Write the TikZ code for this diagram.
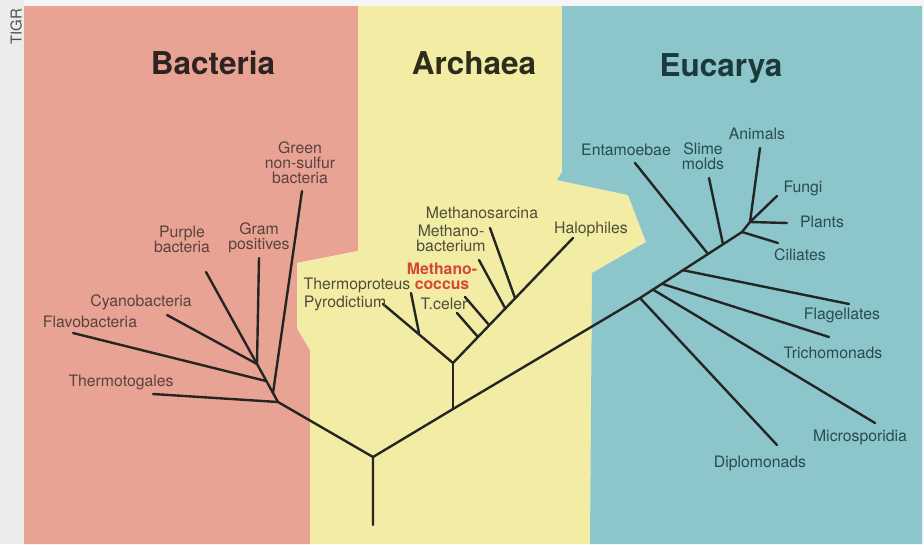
\documentclass[tikz,border=0pt]{standalone}
\usepackage{fontspec}
\setmainfont{TeX Gyre Heros}
\definecolor{bpink}{RGB}{233,163,148}
\definecolor{ayellow}{RGB}{243,236,164}
\definecolor{eblue}{RGB}{140,198,203}
\definecolor{stripgray}{RGB}{236,236,234}
\definecolor{treeline}{RGB}{36,38,36}
\definecolor{mred}{RGB}{214,70,56}
\definecolor{labB}{RGB}{90,66,62}
\definecolor{labA}{RGB}{78,78,58}
\definecolor{labE}{RGB}{40,76,80}
\definecolor{titB}{RGB}{45,35,33}
\definecolor{titA}{RGB}{45,45,30}
\definecolor{titE}{RGB}{28,58,60}
\tikzset{
  tree/.style={draw=treeline, line width=2.4pt, line cap=round, line join=round},
  lbl/.style={font=\fontsize{15.8}{15}\selectfont, align=center, inner sep=0pt, text height=11pt, text depth=0pt},
  lblB/.style={lbl, text=labB},
  lblA/.style={lbl, text=labA},
  lblE/.style={lbl, text=labE},
  domtitle/.style={font=\fontsize{31.5}{36}\selectfont\bfseries, inner sep=0pt, text height=23pt, text depth=0pt}
}
\begin{document}
\begin{tikzpicture}[x=1pt,y=-1pt]
\useasboundingbox (0,0) rectangle (924,544);
% backgrounds
\fill[white!96!black] (0,0) rectangle (924,544);
\fill[stripgray] (0,0) rectangle (24,544);
\fill[bpink] (24,6) -- (358,6) -- (358,251) -- (297,263) -- (297,328) -- (310,350) -- (310,544) -- (24,544) -- cycle;
\fill[ayellow] (358,6) -- (562,6) -- (562,172) -- (557,180) -- (628,195) -- (646,242) -- (592,273) -- (590,544) -- (310,544) -- (310,350) -- (297,328) -- (297,263) -- (358,251) -- cycle;
\fill[eblue] (562,6) -- (922,6) -- (922,544) -- (590,544) -- (592,273) -- (646,242) -- (628,195) -- (557,180) -- (562,172) -- cycle;

\node[rotate=90, font=\fontsize{15}{15}\selectfont, text={rgb,255:red,80;green,80;blue,80}, inner sep=0pt, text height=11pt, text depth=0pt] (tigr) at (16,27) {TIGR};

% titles
\node[domtitle, text=titB] (tbact) at (213,63) {Bacteria};
\node[domtitle, text=titA] (tarch) at (474,63) {Archaea};
\node[domtitle, text=titE] (teuc) at (721,65) {Eucarya};

% tree coordinates
\coordinate (root) at (373,525);
\coordinate (rfork) at (373,457);
% bacteria
\coordinate (bnode) at (278,402);
\coordinate (thermotog) at (153,394);
\coordinate (bgreen) at (273,393);
\coordinate (green) at (302,191);
\coordinate (bflavo) at (266,381);
\coordinate (flavo) at (73,333);
\coordinate (btop) at (257,364);
\coordinate (cyano) at (167,315);
\coordinate (purple) at (206,272);
\coordinate (gram) at (259,258);
% archaea
\coordinate (anode) at (453,409);
\coordinate (atop) at (453,363);
\coordinate (athermo) at (419,333);
\coordinate (pyro) at (383,304);
\coordinate (thermop) at (411,293);
\coordinate (halo) at (573,238);
\coordinate (atcel) at (478,337);
\coordinate (tcel) at (457,313);
\coordinate (amcoc) at (489,325);
\coordinate (mcoc) at (465,297);
\coordinate (ambac) at (505,308);
\coordinate (mbac) at (479,260);
\coordinate (amsar) at (515,298);
\coordinate (msar) at (490,228);
% eucarya
\coordinate (ediplo) at (640,298);
\coordinate (emicro) at (653,289.6);
\coordinate (etricho) at (662,283.8);
\coordinate (eflag) at (683,270.2);
\coordinate (ement) at (708,254);
\coordinate (eslime) at (723,244.3);
\coordinate (enode) at (742,232);
\coordinate (efpa) at (750,222);
\coordinate (diplo) at (777,445);
\coordinate (micro) at (875,423);
\coordinate (tricho) at (829,337);
\coordinate (flag) at (849,304);
\coordinate (ent) at (635,163);
\coordinate (slime) at (709,178);
\coordinate (cil) at (778,243);
\coordinate (animals) at (760,148);
\coordinate (plants) at (787,223);
\coordinate (fungi) at (777,196);

% tree
\draw[tree] (root) -- (rfork) -- (bnode);
\draw[tree] (rfork) -- (anode) -- (ediplo) -- (enode) -- (efpa);
% bacteria branches
\draw[tree] (bnode) -- (thermotog);
\draw[tree] (bnode) -- (btop);
\draw[tree] (bgreen) -- (green);
\draw[tree] (bflavo) -- (flavo);
\draw[tree] (btop) -- (cyano);
\draw[tree] (btop) -- (purple);
\draw[tree] (btop) -- (gram);
% archaea branches
\draw[tree] (anode) -- (atop);
\draw[tree] (atop) -- (pyro);
\draw[tree] (athermo) -- (thermop);
\draw[tree] (atop) -- (halo);
\draw[tree] (atcel) -- (tcel);
\draw[tree] (amcoc) -- (mcoc);
\draw[tree] (ambac) -- (mbac);
\draw[tree] (amsar) -- (msar);
% eucarya branches
\draw[tree] (ediplo) -- (diplo);
\draw[tree] (emicro) -- (micro);
\draw[tree] (etricho) -- (tricho);
\draw[tree] (eflag) -- (flag);
\draw[tree] (ement) -- (ent);
\draw[tree] (eslime) -- (slime);
\draw[tree] (enode) -- (cil);
\draw[tree] (efpa) -- (animals);
\draw[tree] (efpa) -- (plants);
\draw[tree] (efpa) -- (fungi);

% labels: bacteria (multi-line nodes are placed at their last line)
\node[lblB] (lgreen) at (300,178) {Green\\non-sulfur\\bacteria};
\node[lblB] (lpurple) at (182,246.5) {Purple\\bacteria};
\node[lblB] (lgram) at (259,243.5) {Gram\\positives};
\node[lblB] (lcyano) at (141,301) {Cyanobacteria};
\node[lblB] (lflavo) at (90,322) {Flavobacteria};
\node[lblB] (lthermotog) at (121,381) {Thermotogales};
% labels: archaea
\node[lblA] (lthermop) at (357,284) {Thermoproteus};
\node[lblA] (lpyro) at (345,302) {Pyrodictium};
\node[lbl, text=mred, font=\fontsize{15.8}{15}\selectfont\bfseries] (lmcoc) at (442,283.5) {Methano-\\coccus};
\node[lblA] (ltcel) at (444,304) {T.celer};
\node[lblA] (lmbac) at (451,246) {Methano-\\bacterium};
\node[lblA] (lmsar) at (482,213) {Methanosarcina};
\node[lblA] (lhalo) at (591,228) {Halophiles};
% labels: eucarya
\node[lblE] (lent) at (626,150) {Entamoebae};
\node[lblE] (lslime) at (703,164) {Slime\\molds};
\node[lblE] (lanimals) at (757,134) {Animals};
\node[lblE] (lfungi) at (803,187) {Fungi};
\node[lblE] (lplants) at (822,222) {Plants};
\node[lblE] (lcil) at (800,255) {Ciliates};
\node[lblE] (lflag) at (842,314) {Flagellates};
\node[lblE] (ltricho) at (833,353) {Trichomonads};
\node[lblE] (lmicro) at (860,436) {Microsporidia};
\node[lblE] (ldiplo) at (760,462) {Diplomonads};
\end{tikzpicture}
\end{document}
